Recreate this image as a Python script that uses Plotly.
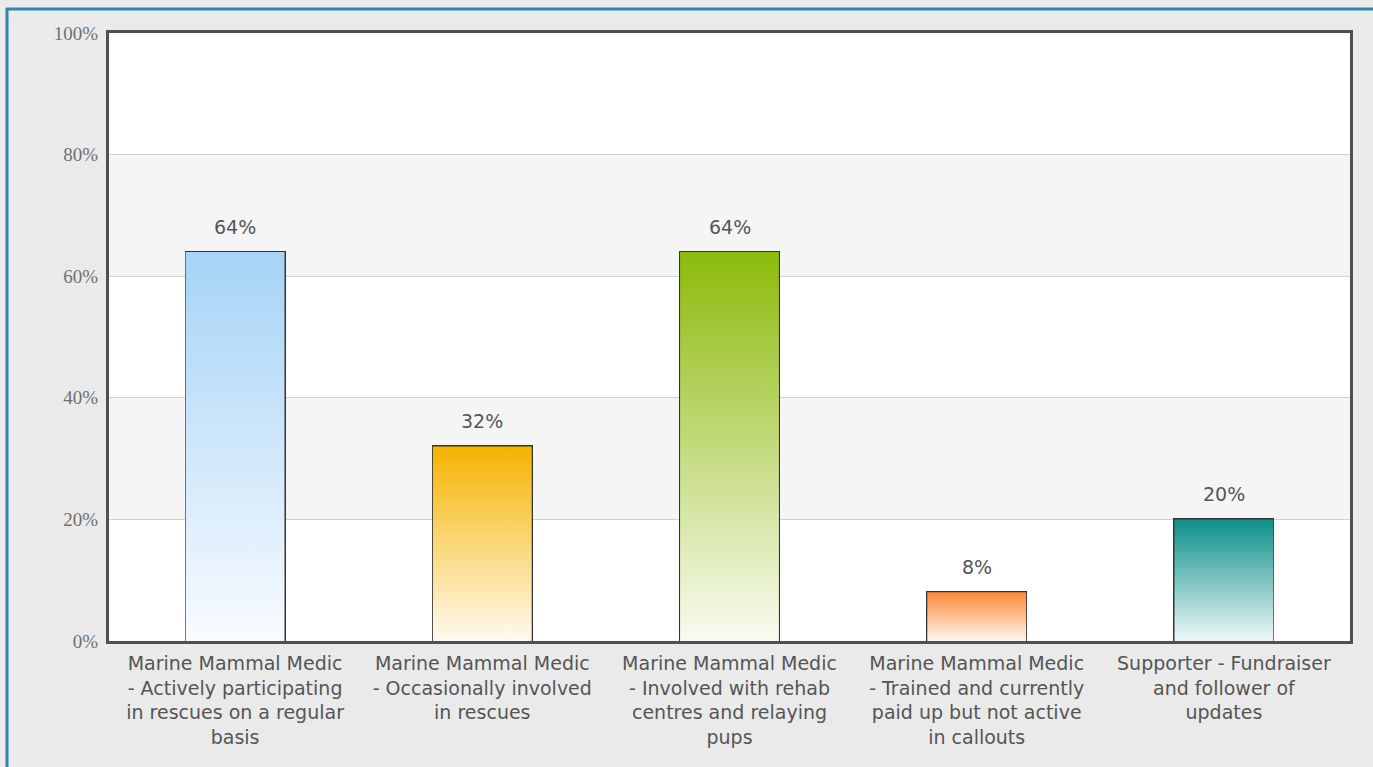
import plotly.graph_objects as go

# Survey responses: share of respondents per role
categories = [
    "Marine Mammal Medic<br>- Actively participating<br>in rescues on a regular<br>basis",
    "Marine Mammal Medic<br>- Occasionally involved<br>in rescues",
    "Marine Mammal Medic<br>- Involved with rehab<br>centres and relaying<br>pups",
    "Marine Mammal Medic<br>- Trained and currently<br>paid up but not active<br>in callouts",
    "Supporter - Fundraiser<br>and follower of<br>updates",
]
percentages = [64, 32, 64, 8, 20]
y_ticks = [0, 20, 40, 60, 80, 100]

# Top colour of each bar's vertical gradient (fades to near-white at the base)
top_colors = ["#a6d3f6", "#f5b300", "#8cba0a", "#ff8838", "#0c8f88"]
base_colors = ["#f8fbff", "#fffaf0", "#f9fbf1", "#fff6ef", "#eef8f8"]

BAR_W = 0.4
W, H = 1373, 767
L, R, T, B = 109, 23, 33, 126

fig = go.Figure()

# Gradient-filled bar bodies
for i, (v, c_top, c_base) in enumerate(zip(percentages, top_colors, base_colors)):
    x0, x1 = i - BAR_W / 2, i + BAR_W / 2
    fig.add_trace(go.Scatter(
        x=[x0, x1, x1, x0, x0],
        y=[0, 0, v, v, 0],
        mode="none",
        fill="toself",
        fillgradient=dict(type="vertical", colorscale=[[0, c_base], [1, c_top]],
                          start=0, stop=v),
        hoverinfo="skip",
        showlegend=False,
    ))

# Bar outlines
fig.add_trace(go.Bar(
    x=list(range(len(percentages))),
    y=percentages,
    width=BAR_W,
    marker=dict(color="rgba(0,0,0,0)", line=dict(color="#333333", width=2)),
    showlegend=False,
    hoverinfo="skip",
))

# Value labels above bars
for i, v in enumerate(percentages):
    fig.add_annotation(
        x=i, y=v, text=f"{v}%", showarrow=False, yanchor="bottom", yshift=12,
        font=dict(family="DejaVu Sans", size=19, color="#555555"),
    )

# Alternating horizontal bands in the plot area
for y0 in (20, 60):
    fig.add_shape(type="rect", xref="paper", yref="y", x0=0, x1=1, y0=y0, y1=y0 + 20,
                  fillcolor="#f5f5f5", line=dict(width=0), layer="below")

# Thin blue frame along the top and left edge of the page
pw, ph = W - L - R, H - T - B
def px_x(px):
    return (px - L) / pw
def px_y(py):
    return (H - B - py) / ph

fig.add_shape(type="line", xref="paper", yref="paper",
              x0=px_x(6), x1=px_x(W + 5), y0=px_y(9), y1=px_y(9),
              line=dict(color="#2f87a8", width=3))
fig.add_shape(type="line", xref="paper", yref="paper",
              x0=px_x(7), x1=px_x(7), y0=px_y(8), y1=px_y(H + 5),
              line=dict(color="#2f87a8", width=3))

fig.update_layout(
    width=W, height=H,
    margin=dict(l=L, r=R, t=T, b=B),
    paper_bgcolor="#eaeaea",
    plot_bgcolor="#ffffff",
    bargap=0,
    xaxis=dict(
        range=[-0.51, 4.51],
        tickmode="array",
        tickvals=list(range(len(categories))),
        ticktext=categories,
        tickfont=dict(family="DejaVu Sans", size=19, color="#555555"),
        showgrid=False, zeroline=False,
        showline=True, mirror=True, linecolor="#505050", linewidth=3,
        ticks="",
        ticklabelstandoff=3,
        fixedrange=True,
    ),
    yaxis=dict(
        range=[0, 100],
        tickmode="array",
        tickvals=y_ticks,
        ticktext=[f"{t}%" for t in y_ticks],
        tickfont=dict(family="Liberation Serif", size=19, color="#707070"),
        showgrid=True, gridcolor="#d2d2d2", gridwidth=1,
        zeroline=False,
        showline=True, mirror=True, linecolor="#505050", linewidth=3,
        ticks="",
        ticklabelstandoff=4,
        fixedrange=True,
    ),
)

fig.write_html("out.html")
